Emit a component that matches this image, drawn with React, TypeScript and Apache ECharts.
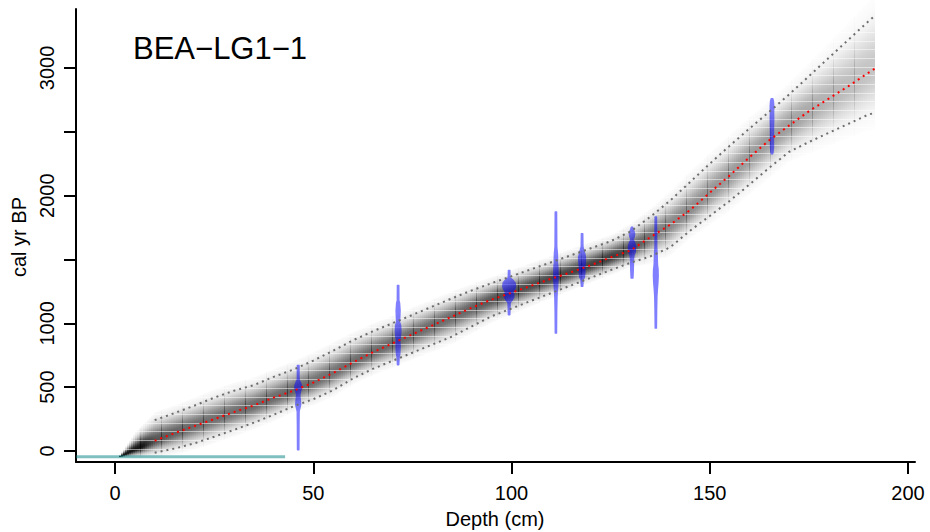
import React, { useEffect, useRef } from "react";
import * as echarts from "echarts";

// ---- Age-depth model ----
const depthKnots = [1, 5, 10, 15, 20, 25, 30, 35, 40, 45, 50, 55, 60, 65, 70, 75, 80, 85, 90, 95, 100, 105, 110, 115, 120, 125, 130, 135, 140, 145, 150, 155, 160, 165, 170, 175, 180, 185, 190, 191.8];
const meanAge = [-50, 12, 80, 140, 195, 250, 305, 357, 418, 472, 536, 611, 694, 773, 844, 914, 983, 1053, 1123, 1186, 1240, 1295, 1349, 1400, 1455, 1517, 1570, 1675, 1772, 1886, 2023, 2157, 2300, 2434, 2549, 2661, 2760, 2858, 2962, 2998];
const lowAge = [-52, -38, -13, 19, 60, 112, 166, 222, 284, 350, 406, 476, 568, 643, 707, 770, 833, 897, 977, 1056, 1116, 1177, 1237, 1297, 1357, 1417, 1474, 1524, 1595, 1725, 1841, 1958, 2087, 2218, 2343, 2420, 2492, 2563, 2635, 2650];
const highAge = [-42, 105, 242, 297, 355, 418, 472, 516, 581, 638, 708, 785, 867, 937, 1001, 1066, 1131, 1196, 1258, 1315, 1369, 1424, 1478, 1533, 1588, 1643, 1719, 1834, 1961, 2105, 2250, 2390, 2525, 2657, 2792, 2935, 3079, 3222, 3365, 3414];

// Bacon sections
const sectionStart = 1;
const sectionThick = 5.3;
const sectionCount = 36;

// Calibrated dates: depth and [age, half-width (cm)] profiles
const dateDepths = [46.2, 71.4, 99.4, 111.2, 117.8, 130.4, 136.4, 165.7];
const dateProfiles: number[][][] = [
  [[676, 0.2], [673, 0.38], [560, 0.4], [540, 0.7], [515, 1.0], [495, 1.05], [470, 0.8], [440, 0.6], [415, 0.65], [390, 0.75], [360, 0.8], [335, 0.6], [310, 0.42], [200, 0.38], [8, 0.35], [4, 0.2]],
  [[1303, 0.2], [1300, 0.35], [1180, 0.38], [1159, 0.55], [1100, 0.68], [1041, 0.6], [1010, 0.55], [987, 0.8], [940, 0.88], [893, 0.75], [869, 0.6], [820, 0.7], [760, 0.6], [736, 0.45], [700, 0.38], [673, 0.33], [670, 0.2]],
  [[1420, 0.2], [1417, 0.35], [1360, 0.4], [1345, 1.0], [1320, 1.65], [1290, 1.8], [1262, 1.5], [1247, 1.1], [1230, 1.3], [1205, 1.35], [1182, 1.0], [1160, 0.45], [1065, 0.35], [1062, 0.2]],
  [[1877, 0.2], [1874, 0.35], [1600, 0.4], [1550, 0.55], [1500, 0.6], [1472, 0.55], [1456, 0.65], [1400, 0.7], [1330, 0.68], [1284, 0.6], [1240, 0.5], [1200, 0.45], [1100, 0.38], [921, 0.33], [918, 0.2]],
  [[1708, 0.2], [1705, 0.35], [1600, 0.4], [1560, 0.75], [1519, 1.05], [1480, 1.0], [1440, 0.85], [1400, 0.9], [1360, 0.75], [1339, 0.45], [1287, 0.35], [1284, 0.2]],
  [[1759, 0.2], [1756, 0.3], [1730, 0.6], [1700, 0.85], [1675, 0.7], [1655, 0.45], [1639, 0.8], [1600, 1.1], [1560, 1.0], [1535, 0.7], [1500, 0.55], [1420, 0.5], [1352, 0.4], [1349, 0.2]],
  [[1838, 0.2], [1835, 0.35], [1600, 0.4], [1548, 0.5], [1460, 0.6], [1420, 0.75], [1370, 0.78], [1316, 0.7], [1260, 0.55], [1208, 0.45], [1100, 0.38], [960, 0.33], [957, 0.2]],
  [[2765, 0.2], [2762, 0.35], [2740, 0.55], [2700, 0.62], [2650, 0.6], [2592, 0.62], [2550, 0.58], [2450, 0.55], [2380, 0.55], [2340, 0.45], [2326, 0.35], [2323, 0.2]],
];

// Surface line
const surfaceAge = -45;
const surfaceEndDepth = 42.9;

// Axes
const xMin = -9.84;
const xMax = 201.77;
const yMin = -86;
const yMax = 3462;
const xTicks = [0, 50, 100, 150, 200];
const yTicks = [0, 500, 1000, 1500, 2000, 2500, 3000];
const yTickLabels = [0, 500, 1000, 2000, 3000];

const title = "BEA\u2212LG1\u22121";
const xName = "Depth (cm)";
const yName = "cal yr BP";

const FONT = "'Liberation Sans', Arial, Helvetica, sans-serif";
const stripeBase = 3283;
const stripeStep = 68;

function gradientStops(lo: number, m: number, hi: number, mult: number) {
  const su = Math.max((hi - m) / 1.96, 0.5);
  const sl = Math.max((m - lo) / 1.96, 0.5);
  const dark = Math.min(0.93, 175 / Math.max(hi - lo, 1)) * mult;
  const Z = 2.7;
  const tot = Z * (su + sl);
  const zs = [2.7, 2.2, 1.7, 1.2, 0.8, 0.4];
  const stops: any[] = [];
  const col = (a: number) => `rgba(0,0,0,${Math.min(1, a).toFixed(3)})`;
  zs.forEach((z) => stops.push({ offset: ((Z - z) * su) / tot, color: col(dark * Math.exp((-z * z) / 2)) }));
  stops.push({ offset: (Z * su) / tot, color: col(dark) });
  zs.slice().reverse().forEach((z) => stops.push({ offset: (Z * su + z * sl) / tot, color: col(dark * Math.exp((-z * z) / 2)) }));
  return { stops, top: m + Z * su, bot: m - Z * sl };
}

export default function App() {
  const ref = useRef<HTMLDivElement>(null);
  useEffect(() => {
    document.body.style.margin = "0";
    if (!ref.current) return;
    const chart = echarts.init(ref.current, undefined, { renderer: "svg" });

    const bandData: number[][] = [];
    for (let i = 0; i < depthKnots.length - 1; i++) {
      bandData.push([depthKnots[i], depthKnots[i + 1], lowAge[i], lowAge[i + 1], meanAge[i], meanAge[i + 1], highAge[i], highAge[i + 1]]);
    }
    const bounds: number[] = [];
    for (let k = 0; k < sectionCount; k++) bounds.push(sectionStart + k * sectionThick);

    const bandRender = (params: any, api: any) => {
      const d0 = api.value(0), d1 = api.value(1);
      const lo0 = api.value(2), lo1 = api.value(3);
      const m0 = api.value(4), m1 = api.value(5);
      const hi0 = api.value(6), hi1 = api.value(7);
      const x0 = Math.round(api.coord([d0, 0])[0]);
      const x1 = Math.round(api.coord([d1, 0])[0]);
      const children: any[] = [];
      const at = (t: number) => ({
        lo: lo0 + (lo1 - lo0) * t,
        m: m0 + (m1 - m0) * t,
        hi: hi0 + (hi1 - hi0) * t,
      });
      let ageMin = Infinity, ageMax = -Infinity;
      for (let xa = x0; xa < x1; xa += 2) {
        const xb = Math.min(xa + 2, x1);
        const t = ((xa + xb) / 2 - x0) / Math.max(x1 - x0, 1);
        const v = at(t);
        const g = gradientStops(v.lo, v.m, v.hi, 1);
        ageMin = Math.min(ageMin, g.bot);
        ageMax = Math.max(ageMax, g.top);
        const yT = api.coord([d0, g.top])[1];
        const yB = api.coord([d0, g.bot])[1];
        children.push({
          type: "rect",
          shape: { x: xa, y: yT, width: xb - xa, height: Math.max(yB - yT, 0.5) },
          style: { fill: new echarts.graphic.LinearGradient(0, 0, 0, 1, g.stops) },
          silent: true,
        });
      }
      bounds.forEach((b) => {
        if (b > d0 && b <= d1) {
          const t = (b - d0) / (d1 - d0);
          const v = at(t);
          const g = gradientStops(v.lo, v.m, v.hi, 0.7);
          const xb = Math.round(api.coord([b, 0])[0]);
          const yT = api.coord([b, g.top])[1];
          const yB = api.coord([b, g.bot])[1];
          children.push({
            type: "rect",
            shape: { x: xb, y: yT, width: 1, height: Math.max(yB - yT, 0.5) },
            style: { fill: new echarts.graphic.LinearGradient(0, 0, 0, 1, g.stops) },
            silent: true,
          });
        }
      });
      for (let s = stripeBase; s > ageMin; s -= stripeStep) {
        if (s < ageMax) {
          const y = Math.round(api.coord([d0, s])[1]) + 0.5;
          children.push({
            type: "line",
            shape: { x1: x0, y1: y, x2: x1, y2: y },
            style: { stroke: "rgba(255,255,255,0.5)", lineWidth: 1 },
            silent: true,
          });
        }
      }
      return { type: "group", children };
    };

    const violinRender = (params: any, api: any) => {
      const i = params.dataIndex;
      const d = dateDepths[i];
      const prof = dateProfiles[i];
      const right = prof.map(([a, w]) => api.coord([d + w, a]));
      const left = prof.slice().reverse().map(([a, w]) => api.coord([d - w, a]));
      return {
        type: "polygon",
        shape: { points: right.concat(left) },
        style: { fill: "rgba(0,0,255,0.5)" },
        silent: true,
      };
    };

    const lineData = (arr: number[]) => depthKnots.slice(2).map((d, i) => [d, arr[i + 2]]);
    const plain = (v: number) => String(v);

    const option: any = {
      animation: false,
      textStyle: { fontFamily: FONT },
      grid: { left: 76, right: 15, top: 9, bottom: 70, containLabel: false, outerBoundsMode: "none" },
      xAxis: {
        type: "value",
        min: xMin,
        max: xMax,
        axisLine: { show: true, onZero: false, lineStyle: { color: "#000", width: 2 } },
        axisTick: { show: true, length: 12, customValues: xTicks, lineStyle: { color: "#000", width: 2 } },
        axisLabel: { show: true, customValues: xTicks, formatter: plain, fontSize: 20, color: "#000", margin: 21, fontFamily: FONT },
        splitLine: { show: false },
      },
      yAxis: {
        type: "value",
        min: yMin,
        max: yMax,
        axisLine: { show: true, onZero: false, lineStyle: { color: "#000", width: 2 } },
        axisTick: { show: true, length: 12, customValues: yTicks, lineStyle: { color: "#000", width: 2 } },
        axisLabel: { show: true, customValues: yTickLabels, formatter: plain, rotate: 90, fontSize: 20, color: "#000", margin: 19, fontFamily: FONT },
        splitLine: { show: false },
      },
      graphic: [
        { type: "text", x: 133, y: 48, style: { text: title, fontSize: 31, fontFamily: FONT, fill: "#000", align: "left", verticalAlign: "middle" } },
        { type: "text", x: 495, y: 519, style: { text: xName, fontSize: 20, fontFamily: FONT, fill: "#000", align: "center", verticalAlign: "middle" } },
        { type: "text", x: 19, y: 237, rotation: Math.PI / 2, style: { text: yName, fontSize: 20, fontFamily: FONT, fill: "#000", align: "center", verticalAlign: "middle" } },
      ],
      series: [
        {
          type: "custom",
          name: "band",
          renderItem: bandRender,
          data: bandData,
          encode: { x: [0, 1], y: [2, 7] },
          z: 1,
          silent: true,
        },
        {
          type: "line",
          name: "surface",
          data: [[xMin, surfaceAge], [surfaceEndDepth, surfaceAge]],
          showSymbol: false,
          symbol: "none",
          lineStyle: { color: "rgba(0,128,128,0.5)", width: 3 },
          z: 2,
          silent: true,
        },
        {
          type: "custom",
          name: "dates",
          renderItem: violinRender,
          data: dateDepths.map((d, i) => [d, dateProfiles[i][0][0]]),
          encode: { x: 0, y: 1 },
          z: 3,
          silent: true,
        },
        {
          type: "line",
          name: "lower",
          data: lineData(lowAge),
          symbol: "none",
          lineStyle: { color: "#6e6e6e", width: 2, type: [2, 4] },
          z: 4,
          silent: true,
        },
        {
          type: "line",
          name: "upper",
          data: lineData(highAge),
          symbol: "none",
          lineStyle: { color: "#6e6e6e", width: 2, type: [2, 4] },
          z: 4,
          silent: true,
        },
        {
          type: "line",
          name: "mean",
          data: lineData(meanAge),
          symbol: "none",
          lineStyle: { color: "#ff0000", width: 2, type: [2, 4] },
          z: 5,
          silent: true,
        },
      ],
    };
    chart.setOption(option);
    return () => chart.dispose();
  }, []);
  return <div ref={ref} style={{ position: "fixed", left: 0, top: 0, width: 930, height: 532, background: "#fff" }} />;
}
